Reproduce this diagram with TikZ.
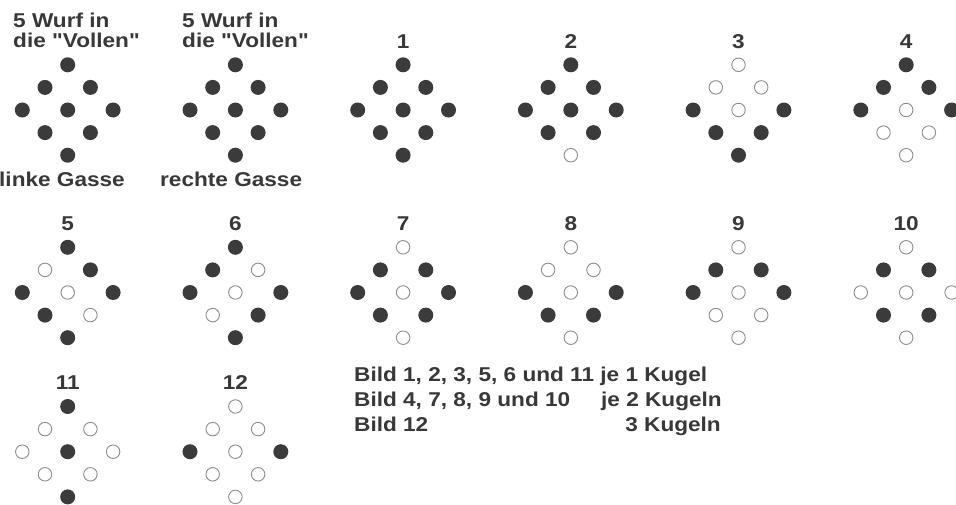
\documentclass[tikz,border=0pt]{standalone}
\usepackage{fontspec}
\setmainfont{Liberation Sans}[FakeStretch=1.13,Ligatures=TeXOff]
\definecolor{pinc}{HTML}{3B3B3B}
\definecolor{ring}{HTML}{8C8C8C}
\definecolor{ink}{HTML}{383838}
\begin{document}
\begin{tikzpicture}
[x=1pt,y=-1pt,
pin1/.style={circle,fill=pinc,inner sep=0pt,minimum size=15pt},
pin0/.style={circle,draw=ring,fill=white,line width=0.9pt,inner sep=0pt,minimum size=13.5pt},
lbl/.style={font=\fontsize{20}{24}\selectfont\bfseries,text=ink,inner sep=0pt}]
\clip (0,0) rectangle (956,504);
%Vollen
\foreach \n/\cx in {li/67.7,re/235.4}
{
	\foreach \dx/\dy [count=\k] in {0/-2,-1/-1,1/-1,-2/0,0/0,2/0,-1/1,1/1,0/2}
		\node[pin1] (d\n-\k) at ({\cx+\dx*22.7},{110+\dy*22.6}) {};
}
	\node[lbl,anchor=base west] (wl1) at (13,27) {5 Wurf in};
	\node[lbl,anchor=base west] (wl2) at (13,47) {die "Vollen"};
	\node[lbl,anchor=base west] (wr1) at (182,27) {5 Wurf in};
	\node[lbl,anchor=base west] (wr2) at (182,47) {die "Vollen"};
	\node[lbl,anchor=base west] (gl) at (-1,186) {linke Gasse};
	\node[lbl,anchor=base west] (gr) at (160,186) {rechte Gasse};
%Bilder 1-12
\foreach \n/\cx/\cy/\pat in {
	1/403.1/110/{1,1,1,1,1,1,1,1,1},
	2/570.8/110/{1,1,1,1,1,1,1,1,0},
	3/738.5/110/{0,0,0,1,0,1,1,1,1},
	4/906.2/110/{1,1,1,1,0,1,0,0,0},
	5/67.7/292.5/{1,0,1,1,0,1,1,0,1},
	6/235.4/292.5/{1,1,0,1,0,1,0,1,1},
	7/403.1/292.5/{0,1,1,1,0,1,1,1,0},
	8/570.8/292.5/{0,0,0,1,0,1,1,1,0},
	9/738.5/292.5/{0,1,1,1,0,1,0,0,0},
	10/906.2/292.5/{0,1,1,0,0,0,1,1,0},
	11/67.7/451.7/{1,0,0,0,1,0,0,0,1},
	12/235.4/451.7/{0,0,0,1,0,1,0,0,0}}
{
	\node[lbl,anchor=base] (n\n) at (\cx,\cy-62) {\n};
	\foreach \b [count=\k] in \pat
	{
		\pgfmathsetmacro\dx{{0,-1,1,-2,0,2,-1,1,0}[\k-1]}
		\pgfmathsetmacro\dy{{-2,-1,-1,0,0,0,1,1,2}[\k-1]}
		\node[pin\b] (d\n-\k) at ({\cx+\dx*22.7},{\cy+\dy*22.6}) {};
	}
}
%Zusammenfassung
	\node[lbl,anchor=base west] (z1) at (354,381) {Bild 1, 2, 3, 5, 6 und 11 je 1 Kugel};
	\node[lbl,anchor=base west] (z2) at (354,406) {Bild 4, 7, 8, 9 und 10};
	\node[lbl,anchor=base west] (z2r) at (601,406) {je 2 Kugeln};
	\node[lbl,anchor=base west] (z3) at (354,431) {Bild 12};
	\node[lbl,anchor=base east] (z3r) at (721,431) {3 Kugeln};
\end{tikzpicture}
\end{document}
